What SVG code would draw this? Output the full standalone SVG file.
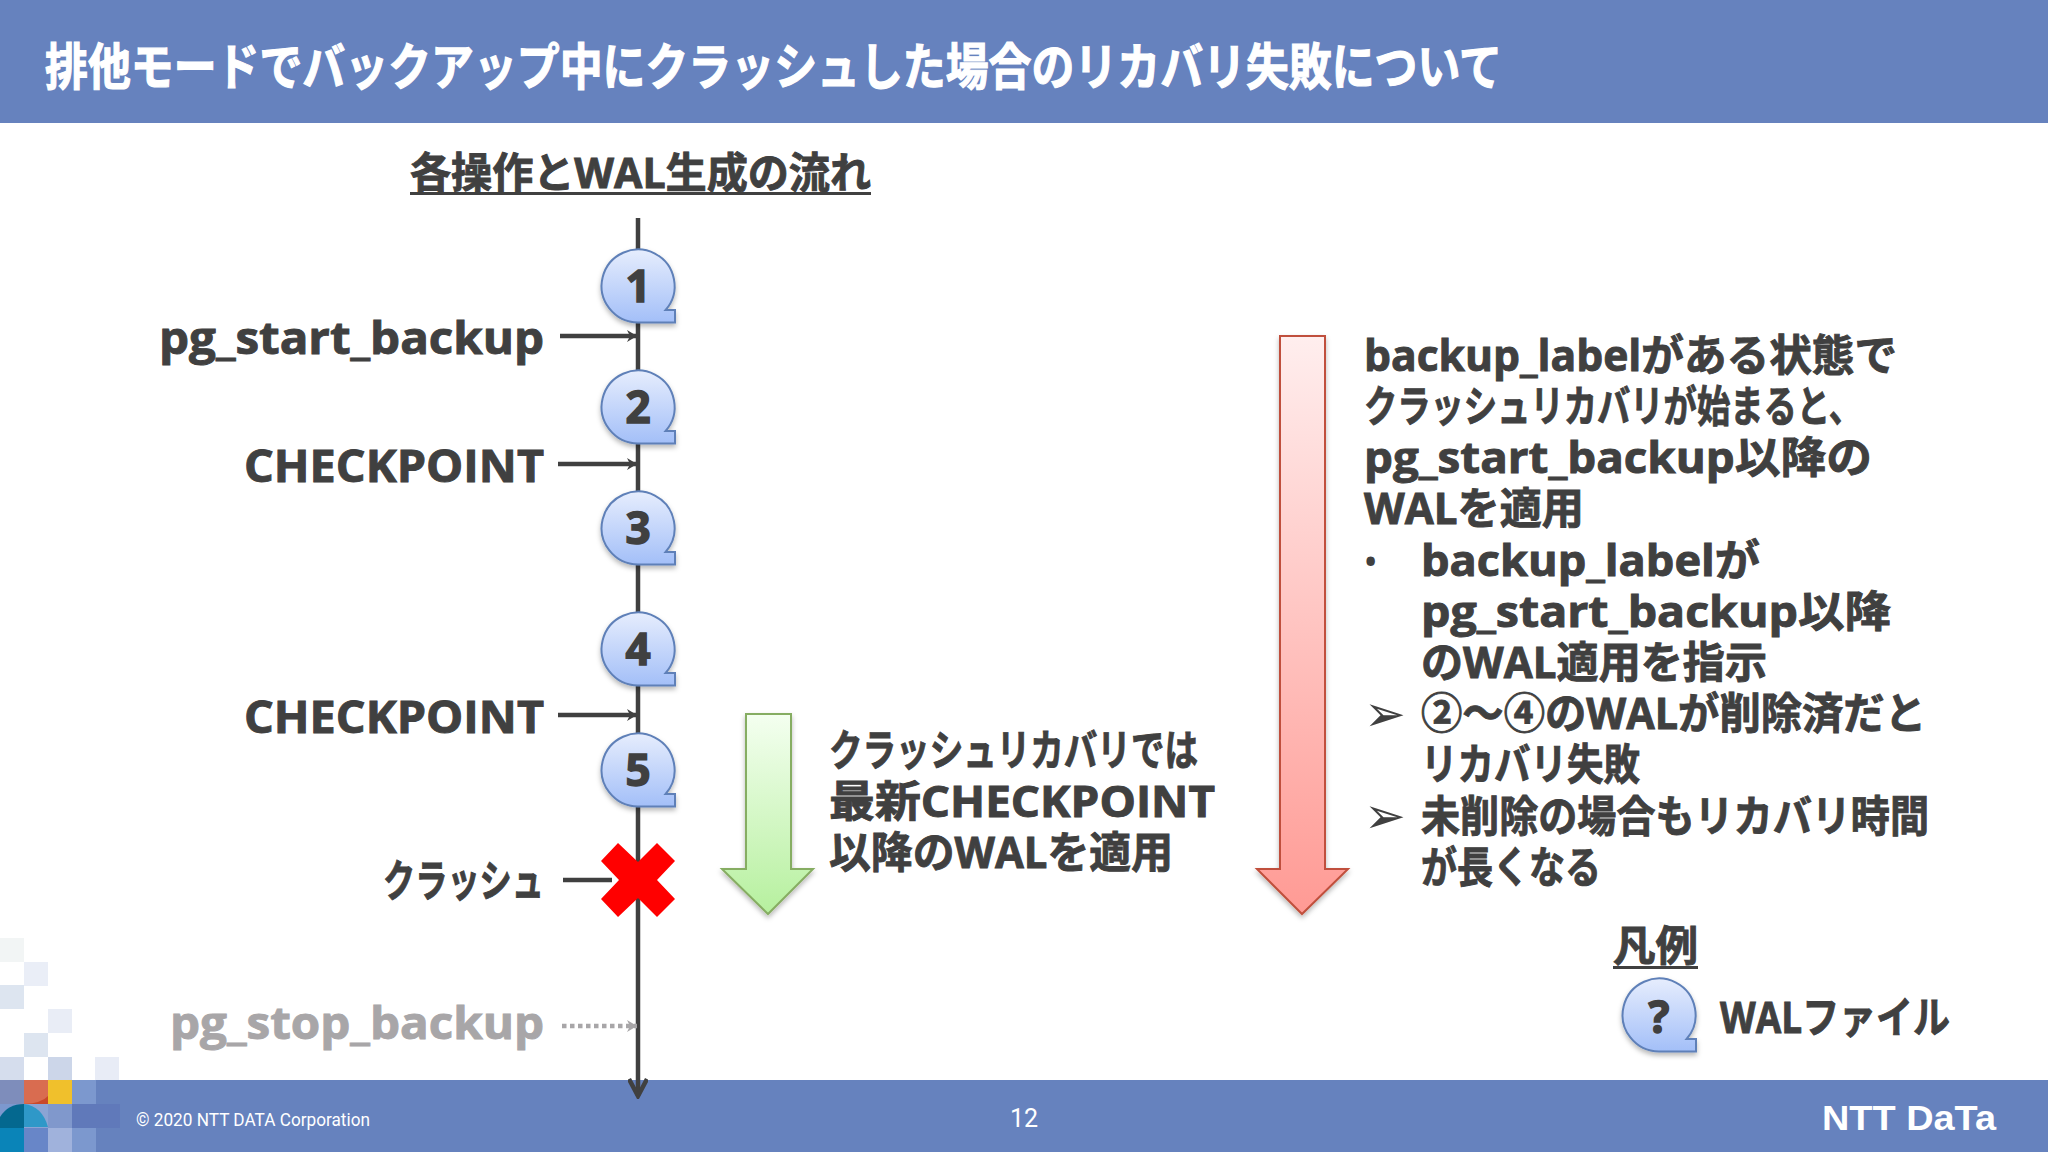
<svg xmlns="http://www.w3.org/2000/svg" width="2048" height="1152" viewBox="0 0 2048 1152">
<style>
text{font-family:"Open Sans","Noto Sans CJK JP",sans-serif;font-weight:700;fill:#404040}
.t,.lab,.h,.num{stroke:#404040;stroke-width:0.9;paint-order:stroke}
.t{font-size:43px}
.lab{font-size:44px}
.num{font-size:44px;text-anchor:middle;stroke-width:1.5}
.h{font-size:42px}
.ln{stroke:#404040;stroke-width:4.5;fill:none}
.band{fill:#6682be}
.foot{fill:#fff;font-weight:400;font-family:"Roboto","Noto Sans",sans-serif}
</style>
<defs>
<linearGradient id="gb" x1="0" y1="0" x2="0" y2="1"><stop offset="0" stop-color="#e6edfd"/><stop offset="1" stop-color="#a3bff8"/></linearGradient>
<linearGradient id="gg" x1="0" y1="0" x2="0" y2="1"><stop offset="0" stop-color="#f4fff0"/><stop offset="1" stop-color="#b6f09e"/></linearGradient>
<linearGradient id="gr" x1="0" y1="0" x2="0" y2="1"><stop offset="0" stop-color="#ffeeee"/><stop offset="1" stop-color="#ff9a94"/></linearGradient>
<filter id="sh" x="-20%" y="-20%" width="140%" height="140%"><feDropShadow dx="0" dy="3" stdDeviation="2.5" flood-color="#000" flood-opacity="0.28"/></filter>
<path id="bub" d="M0,36.5 A36.5,36.5 0 1 1 27.6,24 L37,24 L37,36.5 Z" fill="url(#gb)" stroke="#5f80b8" stroke-width="2" filter="url(#sh)"/>
<marker id="ah" viewBox="0 0 14 14" refX="12" refY="7" markerWidth="14" markerHeight="14" markerUnits="userSpaceOnUse" orient="auto"><path d="M2,1 L12,7 L2,13 L5,7 Z" fill="#404040"/></marker>
<marker id="ag" viewBox="0 0 14 14" refX="12" refY="7" markerWidth="14" markerHeight="14" markerUnits="userSpaceOnUse" orient="auto"><path d="M2,1 L12,7 L2,13 L5,7 Z" fill="#a8a6a8"/></marker>
<marker id="ab" viewBox="0 0 24 20" refX="21" refY="10" markerWidth="24" markerHeight="20" markerUnits="userSpaceOnUse" orient="auto"><path d="M4,1 L21,10 L4,19" fill="none" stroke="#404040" stroke-width="4.5"/></marker>
</defs>
<rect width="2048" height="1152" fill="#fff"/>
<g id="mosaic">
<rect x="0" y="938" width="24" height="24" fill="#f2f5f5"/>
<rect x="24" y="962" width="24" height="24" fill="#eaeef7"/>
<rect x="0" y="985" width="24" height="24" fill="#dde5f0"/>
<rect x="48" y="1009" width="24" height="24" fill="#e9edf6"/>
<rect x="24" y="1033" width="24" height="24" fill="#dde5f0"/>
<rect x="0" y="1057" width="24" height="24" fill="#d5dded"/>
<rect x="48" y="1057" width="24" height="24" fill="#ccd6e9"/>
<rect x="95" y="1057" width="24" height="24" fill="#e8ecf6"/>
</g>
<rect id="title-band" class="band" width="2048" height="123"/>
<rect id="footer-band" class="band" y="1080" width="2048" height="72"/>
<g id="mosaic-footer">
<rect x="0" y="1080" width="24" height="24" fill="#7e8dbb"/>
<rect x="24" y="1080" width="24" height="24" fill="#c9492a"/>
<path d="M24,1080 H48 V1096 Q42,1103 24,1104 Z" fill="#d96c50"/>
<rect x="48" y="1080" width="24" height="24" fill="#f0c02c"/>
<rect x="72" y="1080" width="24" height="24" fill="#7c98ce"/>
<rect x="0" y="1104" width="24" height="24" fill="#7c98ce"/>
<rect x="24" y="1104" width="24" height="24" fill="#8ba4d4"/>
<rect x="48" y="1104" width="24" height="24" fill="#8098cc"/>
<rect x="72" y="1104" width="48" height="24" fill="#6079ba"/>
<path d="M0,1117 Q8,1104 24,1104 V1128 H0 Z" fill="#04688f"/>
<path d="M24,1104 Q42,1106 48,1127 H24 Z" fill="#2f98c8"/>
<rect x="0" y="1128" width="24" height="24" fill="#0a84b8"/>
<rect x="24" y="1128" width="24" height="24" fill="#6886c8"/>
<rect x="48" y="1128" width="24" height="24" fill="#a0b2dc"/>
<rect x="72" y="1128" width="24" height="24" fill="#7c98ce"/>
</g>
<text id="title" x="45" y="85" font-size="50" style="fill:#fff;stroke:#fff;stroke-width:1.2" textLength="1457" lengthAdjust="spacingAndGlyphs">排他モードでバックアップ中にクラッシュした場合のリカバリ失敗について</text>
<g id="connectors">
<path class="ln" d="M638,218 V1096" marker-end="url(#ab)"/>
<path class="ln" d="M560,336 H637" marker-end="url(#ah)"/>
<path class="ln" d="M558,464 H637" marker-end="url(#ah)"/>
<path class="ln" d="M558,715 H637" marker-end="url(#ah)"/>
<path class="ln" d="M563,880 H612"/>
<path d="M562,1026 H637" fill="none" stroke="#a8a6a8" stroke-width="4.5" stroke-dasharray="4.5 3.5" marker-end="url(#ag)"/>
</g>
<g id="heading">
<text class="h" x="410" y="188" textLength="461" lengthAdjust="spacingAndGlyphs">各操作とWAL生成の流れ</text>
<rect x="410" y="192" width="461" height="3" fill="#404040"/>
</g>
<g id="n1"><use href="#bub" x="638" y="286"/><text class="num" x="638" y="302">1</text></g>
<g id="n2"><use href="#bub" x="638" y="407"/><text class="num" x="638" y="423">2</text></g>
<g id="n3"><use href="#bub" x="638" y="528"/><text class="num" x="638" y="544">3</text></g>
<g id="n4"><use href="#bub" x="638" y="649"/><text class="num" x="638" y="665">4</text></g>
<g id="n5"><use href="#bub" x="638" y="770"/><text class="num" x="638" y="786">5</text></g>
<g id="crash-mark"><polygon points="618,843 638,862 657,843 675,861 657,880 675,899 657,917 638,898 618,917 601,899 619,880 601,861" fill="#ff0000"/></g>
<g id="labels">
<text class="lab" x="159" y="354" textLength="385" lengthAdjust="spacingAndGlyphs">pg_start_backup</text>
<text class="lab" x="244" y="482" textLength="300" lengthAdjust="spacingAndGlyphs">CHECKPOINT</text>
<text class="lab" x="244" y="733" textLength="300" lengthAdjust="spacingAndGlyphs">CHECKPOINT</text>
<text class="lab" x="383" y="897" textLength="161" lengthAdjust="spacingAndGlyphs">クラッシュ</text>
<text class="lab" x="170" y="1039" textLength="374" lengthAdjust="spacingAndGlyphs" style="fill:#a8a6a8;stroke:#a8a6a8">pg_stop_backup</text>
</g>
<g id="green-arrow">
<polygon points="746,714 791,714 791,869 813,869 768,914 722,869 746,869" fill="url(#gg)" stroke="#86ad62" stroke-width="2" filter="url(#sh)"/>
</g>
<g id="red-arrow">
<polygon points="1280,336 1325,336 1325,869 1348,869 1302,914 1257,869 1280,869" fill="url(#gr)" stroke="#c0503c" stroke-width="2" filter="url(#sh)"/>
</g>
<g id="middle-text">
<text class="t" x="829" y="766" textLength="369" lengthAdjust="spacingAndGlyphs">クラッシュリカバリでは</text>
<text class="t" x="829" y="817" textLength="386" lengthAdjust="spacingAndGlyphs">最新CHECKPOINT</text>
<text class="t" x="829" y="868" textLength="344" lengthAdjust="spacingAndGlyphs">以降のWALを適用</text>
</g>
<g id="right-text">
<text class="t" x="1364" y="371" textLength="533" lengthAdjust="spacingAndGlyphs">backup_labelがある状態で</text>
<text class="t" x="1364" y="422" textLength="498" lengthAdjust="spacingAndGlyphs">クラッシュリカバリが始まると、</text>
<text class="t" x="1364" y="473" textLength="508" lengthAdjust="spacingAndGlyphs">pg_start_backup以降の</text>
<text class="t" x="1364" y="524" textLength="220" lengthAdjust="spacingAndGlyphs">WALを適用</text>
<text x="1365" y="572" font-size="30">•</text>
<text class="t" x="1421" y="576" textLength="339" lengthAdjust="spacingAndGlyphs">backup_labelが</text>
<text class="t" x="1421" y="627" textLength="470" lengthAdjust="spacingAndGlyphs">pg_start_backup以降</text>
<text class="t" x="1421" y="678" textLength="346" lengthAdjust="spacingAndGlyphs">のWAL適用を指示</text>
<text x="1364" y="731" font-size="50" style="font-family:'DejaVu Sans',sans-serif;font-weight:400">➢</text>
<text class="t" x="1421" y="729" textLength="505" lengthAdjust="spacingAndGlyphs">②～④のWALが削除済だと</text>
<text class="t" x="1421" y="780" textLength="219" lengthAdjust="spacingAndGlyphs">リカバリ失敗</text>
<text x="1364" y="833" font-size="50" style="font-family:'DejaVu Sans',sans-serif;font-weight:400">➢</text>
<text class="t" x="1421" y="832" textLength="508" lengthAdjust="spacingAndGlyphs">未削除の場合もリカバリ時間</text>
<text class="t" x="1421" y="883" textLength="180" lengthAdjust="spacingAndGlyphs">が長くなる</text>
</g>
<g id="legend">
<text class="h" x="1613" y="961" textLength="85" lengthAdjust="spacingAndGlyphs">凡例</text>
<rect x="1613" y="966" width="85" height="3" fill="#404040"/>
<use href="#bub" x="1659" y="1015"/>
<text class="num" x="1659" y="1033">?</text>
<text class="t" x="1720" y="1033" textLength="230" lengthAdjust="spacingAndGlyphs">WALファイル</text>
</g>
<g id="footer">
<text class="foot" x="136" y="1126" font-size="19" textLength="234" lengthAdjust="spacingAndGlyphs">© 2020 NTT DATA Corporation</text>
<text class="foot" x="1024" y="1127" font-size="25" text-anchor="middle">12</text>
<text x="1822" y="1130" font-size="35" textLength="174" lengthAdjust="spacingAndGlyphs" style="fill:#fff;font-family:'Liberation Sans',sans-serif">NTT DaTa</text>
</g>
</svg>
